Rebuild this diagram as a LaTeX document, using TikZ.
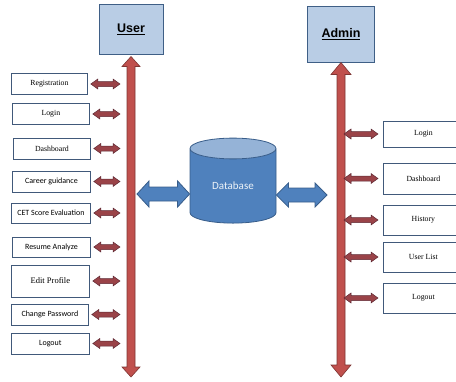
\documentclass[tikz,border=0pt]{standalone}
\usepackage{fontspec}
\setmainfont{Liberation Serif}
\newfontfamily\calibri{Carlito}
\newfontfamily\arialb{Liberation Sans}
\usepackage{xcolor}
\usetikzlibrary{calc,shapes.geometric}

\definecolor{headfill}{HTML}{B9CDE5}
\definecolor{headline}{HTML}{3F5F86}
\definecolor{boxline}{HTML}{41597A}
\definecolor{shaftred}{HTML}{C0504D}
\definecolor{shaftline}{HTML}{7E3533}
\definecolor{linkred}{HTML}{9A4348}
\definecolor{linkline}{HTML}{5E2A34}
\definecolor{dbblue}{HTML}{4F81BD}
\definecolor{dbtop}{HTML}{95B3D7}
\definecolor{dbline}{HTML}{385D8A}

% horizontal double arrow: style, left point, right point, shaft half, head half, head length
\newcommand{\hdarrow}[6]{%
  \draw[#1] let \p1=(#2), \p2=(#3) in
    (\x1,\y1) -- (\x1+#6,\y1+#5) -- (\x1+#6,\y1+#4) -- (\x2-#6,\y1+#4)
    -- (\x2-#6,\y1+#5) -- (\x2,\y1) -- (\x2-#6,\y1-#5) -- (\x2-#6,\y1-#4)
    -- (\x1+#6,\y1-#4) -- (\x1+#6,\y1-#5) -- cycle;}
% vertical double arrow: style, top point, bottom point, shaft half, head half, head length
\newcommand{\vdarrow}[6]{%
  \draw[#1] let \p1=(#2), \p2=(#3) in
    (\x1,\y1) -- (\x1+#5,\y1-#6) -- (\x1+#4,\y1-#6) -- (\x1+#4,\y2+#6)
    -- (\x1+#5,\y2+#6) -- (\x1,\y2) -- (\x1-#5,\y2+#6) -- (\x1-#4,\y2+#6)
    -- (\x1-#4,\y1-#6) -- (\x1-#5,\y1-#6) -- cycle;}

\begin{document}
\begin{tikzpicture}[x=1pt,y=-1pt,
  item/.style={draw=boxline, line width=0.8pt, fill=white, anchor=west,
    minimum width=78pt, minimum height=21pt, inner sep=1pt,
    font=\fontsize{7.8}{9}\selectfont},
  sitem/.style={item, font=\calibri\fontsize{8}{9}\selectfont},
  head/.style={draw=headline, line width=1pt, fill=headfill,
    minimum width=64pt, minimum height=50pt,
    font=\arialb\bfseries\fontsize{12.5}{14}\selectfont},
  shaft/.style={fill=shaftred, draw=shaftline, line width=0.6pt},
  link/.style={fill=linkred, draw=linkline, line width=0.5pt},
  dbarrow/.style={fill=dbblue, draw=dbline, line width=0.8pt}]
\useasboundingbox (0,0) rectangle (456,381);
\clip (0,0) rectangle (456,381);

% user side
\node[head] (user) at (131,29) {\underline{User}};
\coordinate (ubot) at (131,377);
\coordinate (uline) at (120,0);
\vdarrow{shaft}{$(user.south)+(0,2)$}{ubot}{4pt}{9pt}{10pt}

\node[item, minimum width=76pt] (reg) at (11,84) {Registration};
\node[item, minimum width=77pt] (login) at (12,114) {Login};
\node[item, minimum width=77pt] (dash) at (13,148.5) {Dashboard};
\node[sitem] (career) at (12,181.5) {Career guidance};
\node[sitem, minimum width=79pt, minimum height=20pt] (cet) at (11,213) {CET Score Evaluation};
\node[sitem, minimum height=20pt] (resume) at (12,247) {Resume Analyze};
\node[item, minimum height=32pt, font=\fontsize{8.5}{10}\selectfont] (edit) at (11,281) {Edit Profile};
\node[sitem, minimum width=77pt] (chpw) at (11,314.5) {Change Password};
\node[sitem] (ulogout) at (11,343.5) {Logout};

\foreach \b in {reg,login,dash,career,cet,resume,edit,chpw,ulogout}{
  \hdarrow{link}{$(\b.east)+(3,0)$}{\b.east -| uline}{2.5pt}{5pt}{7pt}
}

% admin side
\node[head, minimum width=67pt, minimum height=56pt] (admin) at (341,34) {\underline{Admin}};
\coordinate (abot) at (341,377);
\coordinate (aline) at (344,0);
\vdarrow{shaft}{admin.south}{abot}{4pt}{10pt}{12pt}

\node[item, minimum width=80pt, minimum height=26pt] (alogin) at (383,134) {Login};
\node[item, minimum width=80pt, minimum height=31pt] (adash) at (383,178.5) {Dashboard};
\node[item, minimum width=80pt, minimum height=30pt] (hist) at (383,220) {History};
\node[item, minimum width=80pt, minimum height=30pt] (ulist) at (383,257) {User List};
\node[item, minimum width=80pt, minimum height=30pt] (alogout) at (383,298) {Logout};

\foreach \b in {alogin,adash,hist,ulist,alogout}{
  \hdarrow{link}{\b.west -| aline}{$(\b.west)+(-5,0)$}{2.5pt}{5pt}{7pt}
}

% database
\node[cylinder, shape border rotate=90, aspect=0.5, draw=dbline, line width=0.8pt,
  cylinder uses custom fill, cylinder body fill=dbblue, cylinder end fill=dbtop,
  minimum width=86pt, minimum height=85pt, inner sep=0pt,
  text=white!90!dbblue, font=\calibri\fontsize{11}{13}\selectfont] (db) at (233,186) {Database};
\coordinate (ub) at (137,194);
\coordinate (ab) at (327,195);
\hdarrow{dbarrow}{ub}{ub -| db.west}{7pt}{13pt}{12pt}
\hdarrow{dbarrow}{db.east |- ab}{ab}{7pt}{12pt}{12pt}
\end{tikzpicture}
\end{document}
